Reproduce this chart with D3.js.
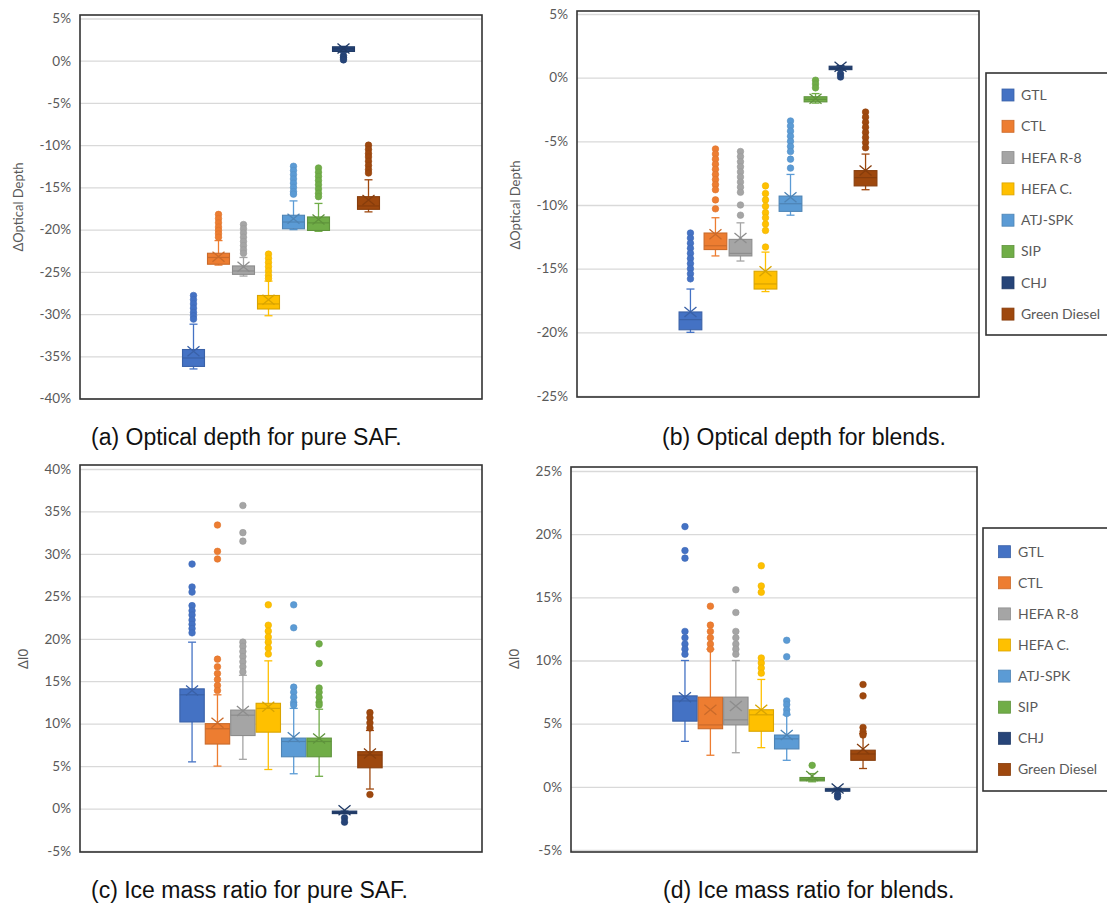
<!DOCTYPE html>
<html>
<head>
<meta charset="utf-8">
<script src="https://cdn.jsdelivr.net/npm/d3@7"></script>
<style>
  body { margin: 0; background: #fff; }
  svg { display: block; }
  .tick text { font-family: Lato, "Open Sans", sans-serif; font-size: 13.5px; fill: #595959; }
  .axis-title { font-family: Lato, "Open Sans", sans-serif; font-size: 13px; fill: #595959; }
  .legend text { font-family: Lato, "Open Sans", sans-serif; font-size: 14px; fill: #595959; }
  .caption { font-family: "Liberation Sans", Arial, sans-serif; font-size: 23px; fill: #111; }
</style>
</head>
<body>
<svg id="chart" width="1107" height="903"></svg>
<script>
const categories = ["GTL", "CTL", "HEFA R-8", "HEFA C.", "ATJ-SPK", "SIP", "CHJ", "Green Diesel"];
const colors = ["#4472C4", "#ED7D31", "#A5A5A5", "#FFC000", "#5B9BD5", "#70AD47", "#264478", "#9E480E"];

// (a) optical depth, pure SAF (%)
const odPureLo   = [-36.5, -24.2, -25.5, -30.2, -20.0, -20.2, 1.0, -17.9];
const odPureQ1   = [-36.2, -24.1, -25.3, -29.4, -19.9, -20.1, 1.1, -17.6];
const odPureMed  = [-35.2, -23.3, -24.9, -28.8, -19.1, -19.2, 1.4, -17.2];
const odPureQ3   = [-34.2, -22.8, -24.3, -27.8, -18.3, -18.5, 1.65, -16.1];
const odPureHi   = [-31.2, -21.3, -23.3, -26.1, -16.6, -16.9, 1.7, -14.1];
const odPureMean = [-34.4, -23.2, -24.4, -28.3, -18.7, -18.8, 1.45, -16.5];
const odPureOut  = [
    [-27.8, -28.3, -28.8, -29.3, -29.8, -30.2, -30.6],
    [-18.2, -18.7, -19.2, -19.7, -20.1, -20.5, -20.9],
    [-19.4, -19.9, -20.4, -20.9, -21.4, -21.9, -22.4, -22.8],
    [-22.9, -23.4, -23.9, -24.4, -24.9, -25.4, -25.8],
    [-12.5, -13.0, -13.5, -14.0, -14.5, -15.0, -15.5, -15.8],
    [-12.7, -13.2, -13.7, -14.2, -14.7, -15.2, -15.7, -16.1],
    [0.6, 0.35, 0.1],
    [-10.0, -10.5, -11.0, -11.4, -11.9, -12.4, -12.9, -13.3]
];
const odPureTicks = [5, 0, -5, -10, -15, -20, -25, -30, -35, -40];

// (b) optical depth, blends (%)
const odBlendLo   = [-20.0, -14.0, -14.4, -16.8, -10.8, -2.0, 0.58, -8.8];
const odBlendQ1   = [-19.8, -13.5, -14.0, -16.6, -10.5, -1.9, 0.63, -8.5];
const odBlendMed  = [-19.0, -13.2, -13.8, -16.2, -9.9, -1.7, 0.75, -7.85];
const odBlendQ3   = [-18.4, -12.2, -12.7, -15.2, -9.3, -1.5, 0.9, -7.3];
const odBlendHi   = [-16.6, -11.0, -11.4, -13.7, -7.6, -1.25, 0.95, -6.0];
const odBlendMean = [-18.4, -12.3, -12.6, -15.2, -9.4, -1.65, 0.85, -7.3];
const odBlendOut  = [
    [-12.2, -12.6, -13.0, -13.4, -13.8, -14.2, -14.6, -15.0, -15.4, -15.8],
    [-5.6, -6.0, -6.4, -6.8, -7.2, -7.6, -8.0, -8.4, -8.8, -9.6, -10.3],
    [-5.8, -6.2, -6.6, -7.0, -7.4, -7.8, -8.2, -8.6, -9.0, -10.0, -10.8],
    [-8.5, -9.1, -9.6, -10.1, -10.6, -11.0, -11.5, -12.0, -13.3],
    [-3.4, -3.8, -4.2, -4.6, -5.0, -5.4, -5.8, -6.4, -7.1],
    [-0.2, -0.5, -0.8],
    [0.3, 0.05],
    [-2.7, -3.1, -3.5, -3.9, -4.3, -4.7, -5.1, -5.5]
];
const odBlendTicks = [5, 0, -5, -10, -15, -20, -25];

// (c) ice mass ratio, pure SAF (%)
const iwPureLo   = [5.5, 5.0, 5.8, 4.6, 4.1, 3.8, -0.6, 2.3];
const iwPureQ1   = [10.2, 7.6, 8.6, 9.0, 6.1, 6.1, -0.55, 4.8];
const iwPureMed  = [13.4, 9.4, 11.0, 11.8, 7.9, 7.9, -0.45, 6.3];
const iwPureQ3   = [14.1, 10.0, 11.6, 12.4, 8.3, 8.3, -0.3, 6.7];
const iwPureHi   = [19.6, 13.4, 15.7, 17.4, 11.8, 11.7, -0.3, 9.2];
const iwPureMean = [13.9, 10.1, 11.5, 12.0, 8.4, 8.25, -0.2, 6.5];
const iwPureOut  = [
    [28.8, 26.1, 25.5, 23.9, 23.3, 22.8, 22.2, 21.7, 21.2, 20.7],
    [33.4, 30.3, 29.4, 17.6, 16.7, 15.9, 15.2, 14.5, 13.9],
    [35.7, 32.5, 31.5, 19.6, 19.1, 18.5, 17.9, 17.3, 16.7, 16.1],
    [24.0, 21.6, 20.9, 20.2, 19.6, 18.9, 18.2],
    [24.0, 21.3, 14.3, 13.7, 13.1, 12.5, 12.2],
    [19.4, 17.1, 14.2, 13.7, 13.1, 12.5, 12.2],
    [-1.1, -1.6],
    [11.3, 10.7, 10.1, 9.5, 1.65]
];
const iwPureTicks = [40, 35, 30, 25, 20, 15, 10, 5, 0, -5];

// (d) ice mass ratio, blends (%)
const iwBlendLo   = [3.6, 2.5, 2.7, 3.1, 2.1, 0.4, -0.3, 1.45];
const iwBlendQ1   = [5.2, 4.6, 4.9, 4.4, 3.0, 0.47, -0.25, 2.1];
const iwBlendMed  = [6.8, 4.9, 5.3, 5.7, 3.8, 0.6, -0.2, 2.6];
const iwBlendQ3   = [7.2, 7.1, 7.1, 6.1, 4.1, 0.74, -0.15, 2.9];
const iwBlendHi   = [10.0, 10.9, 10.0, 8.5, 5.7, 1.05, -0.1, 4.2];
const iwBlendMean = [7.1, 6.1, 6.4, 6.1, 4.1, 0.85, -0.13, 3.0];
const iwBlendOut  = [
    [20.6, 18.7, 18.1, 12.3, 11.8, 11.3, 10.9, 10.5],
    [14.3, 12.8, 12.3, 11.8, 11.3, 10.9],
    [15.6, 13.8, 12.3, 11.8, 11.3, 10.9, 10.5],
    [17.5, 15.9, 15.4, 10.2, 9.8, 9.4, 9.0],
    [11.6, 10.3, 6.8, 6.5, 6.1, 5.8],
    [1.7],
    [-0.6, -0.8],
    [8.1, 7.2, 4.7, 4.35, 4.1]
];
const iwBlendTicks = [25, 20, 15, 10, 5, 0, -5];

const toRows = (lo, q1, med, q3, hi, mean, out) => categories.map((name, i) => ({
    name, color: colors[i],
    lo: lo[i], q1: q1[i], med: med[i], q3: q3[i], hi: hi[i], mean: mean[i], out: out[i]
}));

const panels = [
    {
        rows: toRows(odPureLo, odPureQ1, odPureMed, odPureQ3, odPureHi, odPureMean, odPureOut),
        ticks: odPureTicks, frame: { left: 80, right: 482, top: 15, bottom: 399 },
        yRange: [398.5, 18.5], pad: [0.12, 4.1], title: "ΔOptical Depth", titleX: 18, titleY: 207,
        caption: "(a) Optical depth for pure SAF.", capX: 91, capY: 445, legend: null
    },
    {
        rows: toRows(odBlendLo, odBlendQ1, odBlendMed, odBlendQ3, odBlendHi, odBlendMean, odBlendOut),
        ticks: odBlendTicks, frame: { left: 577, right: 979, top: 11, bottom: 397 },
        yRange: [396, 14], pad: [0.09, 4.08], title: "ΔOptical Depth", titleX: 515, titleY: 205,
        caption: "(b) Optical depth for blends.", capX: 662, capY: 445,
        legend: { x: 986, y: 73, h: 262, first: 95, step: 31.3, sw: 1002, tx: 1021 }
    },
    {
        rows: toRows(iwPureLo, iwPureQ1, iwPureMed, iwPureQ3, iwPureHi, iwPureMean, iwPureOut),
        ticks: iwPureTicks, frame: { left: 80, right: 482, top: 465, bottom: 852 },
        yRange: [851, 469], pad: [0.04, 3.93], title: "ΔI0", titleX: 23, titleY: 659,
        caption: "(c) Ice mass ratio for pure SAF.", capX: 91, capY: 898, legend: null
    },
    {
        rows: toRows(iwBlendLo, iwBlendQ1, iwBlendMed, iwBlendQ3, iwBlendHi, iwBlendMean, iwBlendOut),
        ticks: iwBlendTicks, frame: { left: 571, right: 977, top: 467, bottom: 852 },
        yRange: [850, 471], pad: [0.04, 4.0], title: "ΔI0", titleX: 514, titleY: 659,
        caption: "(d) Ice mass ratio for blends.", capX: 663, capY: 898,
        legend: { x: 983, y: 528, h: 263, first: 551.7, step: 31.1, sw: 998.5, tx: 1018 }
    }
];

const svg = d3.select("#chart");

const drawPanel = (p) => {
    const f = p.frame;
    const g = svg.append("g");

    const y = d3.scaleLinear()
        .domain(d3.extent(p.ticks))
        .range(p.yRange);

    const x = d3.scaleBand()
        .domain(categories)
        .range([f.left, f.right])
        .paddingInner(p.pad[0])
        .paddingOuter(p.pad[1]);

    // gridlines
    const grid = g.append("g")
        .attr("transform", `translate(${f.left},0)`)
        .call(d3.axisLeft(y).tickValues(p.ticks).tickSize(-(f.right - f.left)).tickFormat(""));
    grid.selectAll(".domain").remove();
    grid.selectAll("line").attr("stroke", "#d9d9d9").attr("stroke-width", 1.3);

    // tick labels
    const yAxisG = g.append("g")
        .attr("transform", `translate(${f.left},0)`)
        .call(d3.axisLeft(y).tickValues(p.ticks).tickSize(0).tickPadding(9).tickFormat(d => `${d}%`));
    yAxisG.selectAll(".domain").remove();

    g.append("text")
        .attr("class", "axis-title")
        .attr("transform", `translate(${p.titleX},${p.titleY}) rotate(-90)`)
        .attr("text-anchor", "middle")
        .attr("dy", "0.35em")
        .text(p.title);

    g.append("rect")
        .attr("x", f.left).attr("y", f.top)
        .attr("width", f.right - f.left).attr("height", f.bottom - f.top)
        .attr("fill", "none").attr("stroke", "#333").attr("stroke-width", 1.6);

    const bw = x.bandwidth();
    const boxes = g.selectAll(".box").data(p.rows)
        .enter()
        .append("g")
        .attr("class", "box")
        .attr("transform", d => `translate(${x(d.name) + bw / 2},0)`);

    const edge = d => d3.color(d.color).darker(0.45);

    // whiskers
    boxes.append("line")
        .attr("y1", d => y(d.hi)).attr("y2", d => y(d.lo))
        .attr("stroke", d => d.color).attr("stroke-width", 1.3);
    boxes.selectAll(".cap").data(d => [d.hi, d.lo].map(v => ({ v, d })))
        .enter()
        .append("line")
        .attr("x1", -4).attr("x2", 4)
        .attr("y1", e => y(e.v)).attr("y2", e => y(e.v))
        .attr("stroke", e => e.d.color).attr("stroke-width", 1.3);

    // box
    boxes.append("rect")
        .attr("x", -bw / 2).attr("width", bw)
        .attr("y", d => y(d.q3))
        .attr("height", d => Math.max(2.5, y(d.q1) - y(d.q3)))
        .attr("fill", d => d.color)
        .attr("stroke", edge).attr("stroke-width", 1.1);
    boxes.append("line")
        .attr("x1", -bw / 2).attr("x2", bw / 2)
        .attr("y1", d => y(d.med)).attr("y2", d => y(d.med))
        .attr("stroke", edge).attr("stroke-width", 1.2);

    // mean marker
    boxes.append("path")
        .attr("d", d => {
            const m = y(d.mean);
            return `M-6,${m - 5}L6,${m + 5}M-6,${m + 5}L6,${m - 5}`;
        })
        .attr("fill", "none")
        .attr("stroke", edge).attr("stroke-width", 1.3);

    // outliers
    boxes.selectAll(".out").data(d => d.out.map(v => ({ v, d })))
        .enter()
        .append("circle")
        .attr("cy", e => y(e.v))
        .attr("r", 3.3)
        .attr("fill", e => e.d.color)
        .attr("stroke", e => d3.color(e.d.color).darker(0.2))
        .attr("stroke-width", 0.6);

    g.append("text")
        .attr("class", "caption")
        .attr("x", p.capX).attr("y", p.capY)
        .text(p.caption);

    if (p.legend) {
        const L = p.legend;
        const lg = g.append("g").attr("class", "legend");
        lg.append("rect")
            .attr("x", L.x).attr("y", L.y)
            .attr("width", 200).attr("height", L.h)
            .attr("fill", "#fff").attr("stroke", "#333").attr("stroke-width", 1.6);
        const items = lg.selectAll(".item").data(categories)
            .enter()
            .append("g")
            .attr("transform", (d, i) => `translate(0,${L.first + i * L.step})`);
        items.append("rect")
            .attr("x", L.sw).attr("y", -6)
            .attr("width", 12).attr("height", 12)
            .attr("fill", (d, i) => colors[i])
            .attr("stroke", (d, i) => d3.color(colors[i]).darker(0.45))
            .attr("stroke-width", 0.8);
        items.append("text")
            .attr("x", L.tx).attr("dy", "0.35em")
            .text(d => d);
    }
};

panels.forEach(drawPanel);
</script>
</body>
</html>
